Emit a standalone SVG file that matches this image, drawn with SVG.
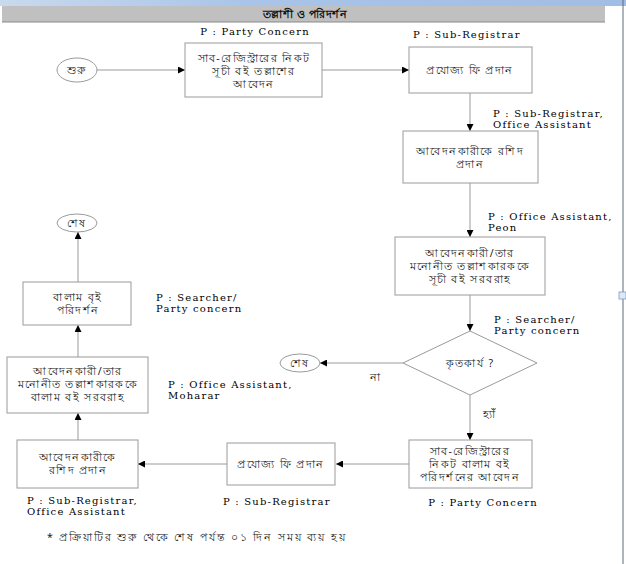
<svg xmlns="http://www.w3.org/2000/svg" width="626" height="564" viewBox="0 0 626 564">
<defs>
<linearGradient id="topg" x1="0" y1="0" x2="1" y2="0">
<stop offset="0" stop-color="#c9d9ee"/><stop offset="0.4" stop-color="#a9c4e8"/><stop offset="1" stop-color="#a2bde4"/>
</linearGradient>
<marker id="ah" viewBox="0 0 10 10" refX="10" refY="5" markerWidth="7" markerHeight="7" orient="auto" markerUnits="userSpaceOnUse">
<path d="M0,0 L10,5 L0,10 z" fill="#000"/>
</marker>
</defs>
<style>
.box{fill:#fff;stroke:#9a9a9a;stroke-width:1}
.bt{font-family:"Noto Sans","Noto Sans CJK SC",sans-serif;font-size:10.5px;letter-spacing:1.4px;fill:#222;text-anchor:middle}
.lb{font-family:"DejaVu Serif","Liberation Serif",serif;font-size:10px;letter-spacing:1.2px;fill:#000}
.cn{fill:none;stroke:#9a9a9a;stroke-width:1;marker-end:url(#ah)}
</style>
<rect width="626" height="564" fill="#fff"/>
<rect x="0" y="0" width="626" height="6" fill="url(#topg)"/>
<rect x="2" y="6" width="603" height="16" fill="#c0c0c0"/>
<line x1="2" y1="22" x2="605" y2="22" stroke="#8a8a8a" stroke-width="1.2"/>
<text x="305" y="18" style="font-family:'Noto Sans',sans-serif;font-size:11px;font-weight:bold;letter-spacing:0.5px;fill:#111;text-anchor:middle">তল্লাশী ও পরিদর্শন</text>
<line x1="623" y1="0" x2="623" y2="564" stroke="#5a6a7a" stroke-width="1"/>
<rect x="619" y="292" width="7" height="7" fill="#dfe9f5" stroke="#7f9cc0" stroke-width="0.8"/>

<g id="connectors">
<line class="cn" x1="97" y1="70" x2="185" y2="70"/>
<line class="cn" x1="322" y1="70" x2="409" y2="70"/>
<line class="cn" x1="470" y1="93" x2="470" y2="131"/>
<line class="cn" x1="470" y1="183" x2="470" y2="237"/>
<line class="cn" x1="470" y1="295" x2="470" y2="331"/>
<line class="cn" x1="403" y1="363" x2="320" y2="363"/>
<line class="cn" x1="470" y1="395" x2="470" y2="440"/>
<line class="cn" x1="409" y1="464" x2="336" y2="464"/>
<line class="cn" x1="227" y1="464" x2="138" y2="464"/>
<line class="cn" x1="78" y1="440" x2="78" y2="413"/>
<line class="cn" x1="78" y1="357" x2="78" y2="325"/>
<line class="cn" x1="78" y1="282" x2="78" y2="232"/>
<text class="bt" x="376" y="381">না</text>
<text class="bt" x="490" y="418">হ্যাঁ</text>
</g>

<g id="start">
<ellipse cx="77" cy="70" rx="20" ry="12" class="box"/>
<text class="bt" x="77" y="74">শুরু</text>
</g>

<g id="n1">
<rect x="185" y="43" width="137" height="54" class="box"/>
<text class="bt" x="254" y="62">সাব-রেজিস্ট্রারের নিকট</text>
<text class="bt" x="254" y="75">সূচী বই তল্লাশের</text>
<text class="bt" x="254" y="88">আবেদন</text>
<text class="lb" x="255" y="35" text-anchor="middle">P : Party Concern</text>
</g>

<g id="n2">
<rect x="409" y="47" width="123" height="46" class="box"/>
<text class="bt" x="470" y="74">প্রযোজ্য ফি প্রদান</text>
<text class="lb" x="413" y="38">P : Sub-Registrar</text>
</g>

<g id="n3">
<rect x="403" y="131" width="135" height="52" class="box"/>
<text class="bt" x="470" y="155">আবেদনকারীকে রশিদ</text>
<text class="bt" x="470" y="168">প্রদান</text>
<text class="lb" x="493" y="117">P : Sub-Registrar,</text>
<text class="lb" x="493" y="128">Office Assistant</text>
</g>

<g id="n4">
<rect x="395" y="237" width="150" height="58" class="box"/>
<text class="bt" x="470" y="257">আবেদনকারী/তার</text>
<text class="bt" x="470" y="270">মনোনীত তল্লাশকারককে</text>
<text class="bt" x="470" y="283">সূচী বই সরবরাহ</text>
<text class="lb" x="488" y="220">P : Office Assistant,</text>
<text class="lb" x="488" y="231">Peon</text>
</g>

<g id="decision">
<polygon points="470,331 537,363 470,395 403,363" class="box"/>
<text class="bt" x="470" y="367">কৃতকার্য ?</text>
<text class="lb" x="494" y="323">P : Searcher/</text>
<text class="lb" x="494" y="334">Party concern</text>
</g>

<g id="end1">
<ellipse cx="300" cy="363" rx="20" ry="9" class="box"/>
<text class="bt" x="300" y="367">শেষ</text>
</g>

<g id="n5">
<rect x="409" y="440" width="123" height="48" class="box"/>
<text class="bt" x="470" y="455">সাব-রেজিস্ট্রারের</text>
<text class="bt" x="470" y="468">নিকট বালাম বই</text>
<text class="bt" x="470" y="481">পরিদর্শনের আবেদন</text>
<text class="lb" x="483" y="506" text-anchor="middle">P : Party Concern</text>
</g>

<g id="n6">
<rect x="227" y="443" width="108" height="42" class="box"/>
<text class="bt" x="281" y="468">প্রযোজ্য ফি প্রদান</text>
<text class="lb" x="223" y="505">P : Sub-Registrar</text>
</g>

<g id="n7">
<rect x="17" y="440" width="121" height="48" class="box"/>
<text class="bt" x="78" y="461">আবেদনকারীকে</text>
<text class="bt" x="78" y="474">রশিদ প্রদান</text>
<text class="lb" x="27" y="504">P : Sub-Registrar,</text>
<text class="lb" x="27" y="515">Office Assistant</text>
</g>

<g id="n8">
<rect x="7" y="357" width="141" height="56" class="box"/>
<text class="bt" x="78" y="375">আবেদনকারী/তার</text>
<text class="bt" x="78" y="388">মনোনীত তল্লাশকারককে</text>
<text class="bt" x="78" y="401">বালাম বই সরবরাহ</text>
<text class="lb" x="168" y="388">P : Office Assistant,</text>
<text class="lb" x="168" y="399">Moharar</text>
</g>

<g id="n9">
<rect x="23" y="282" width="108" height="43" class="box"/>
<text class="bt" x="78" y="301">বালাম বৃই</text>
<text class="bt" x="78" y="314">পরিদর্শন</text>
<text class="lb" x="156" y="301">P : Searcher/</text>
<text class="lb" x="156" y="312">Party concern</text>
</g>

<g id="end2">
<ellipse cx="77" cy="223" rx="20" ry="9" class="box"/>
<text class="bt" x="77" y="227">শেষ</text>
</g>

<text x="47" y="541" style="font-family:'Noto Sans',sans-serif;font-size:10.5px;letter-spacing:1.9px;fill:#222">* প্রক্রিয়াটির  শুরু থেকে শেষ পর্যন্ত ০১ দিন সময় ব্যয় হয়</text>
</svg>
